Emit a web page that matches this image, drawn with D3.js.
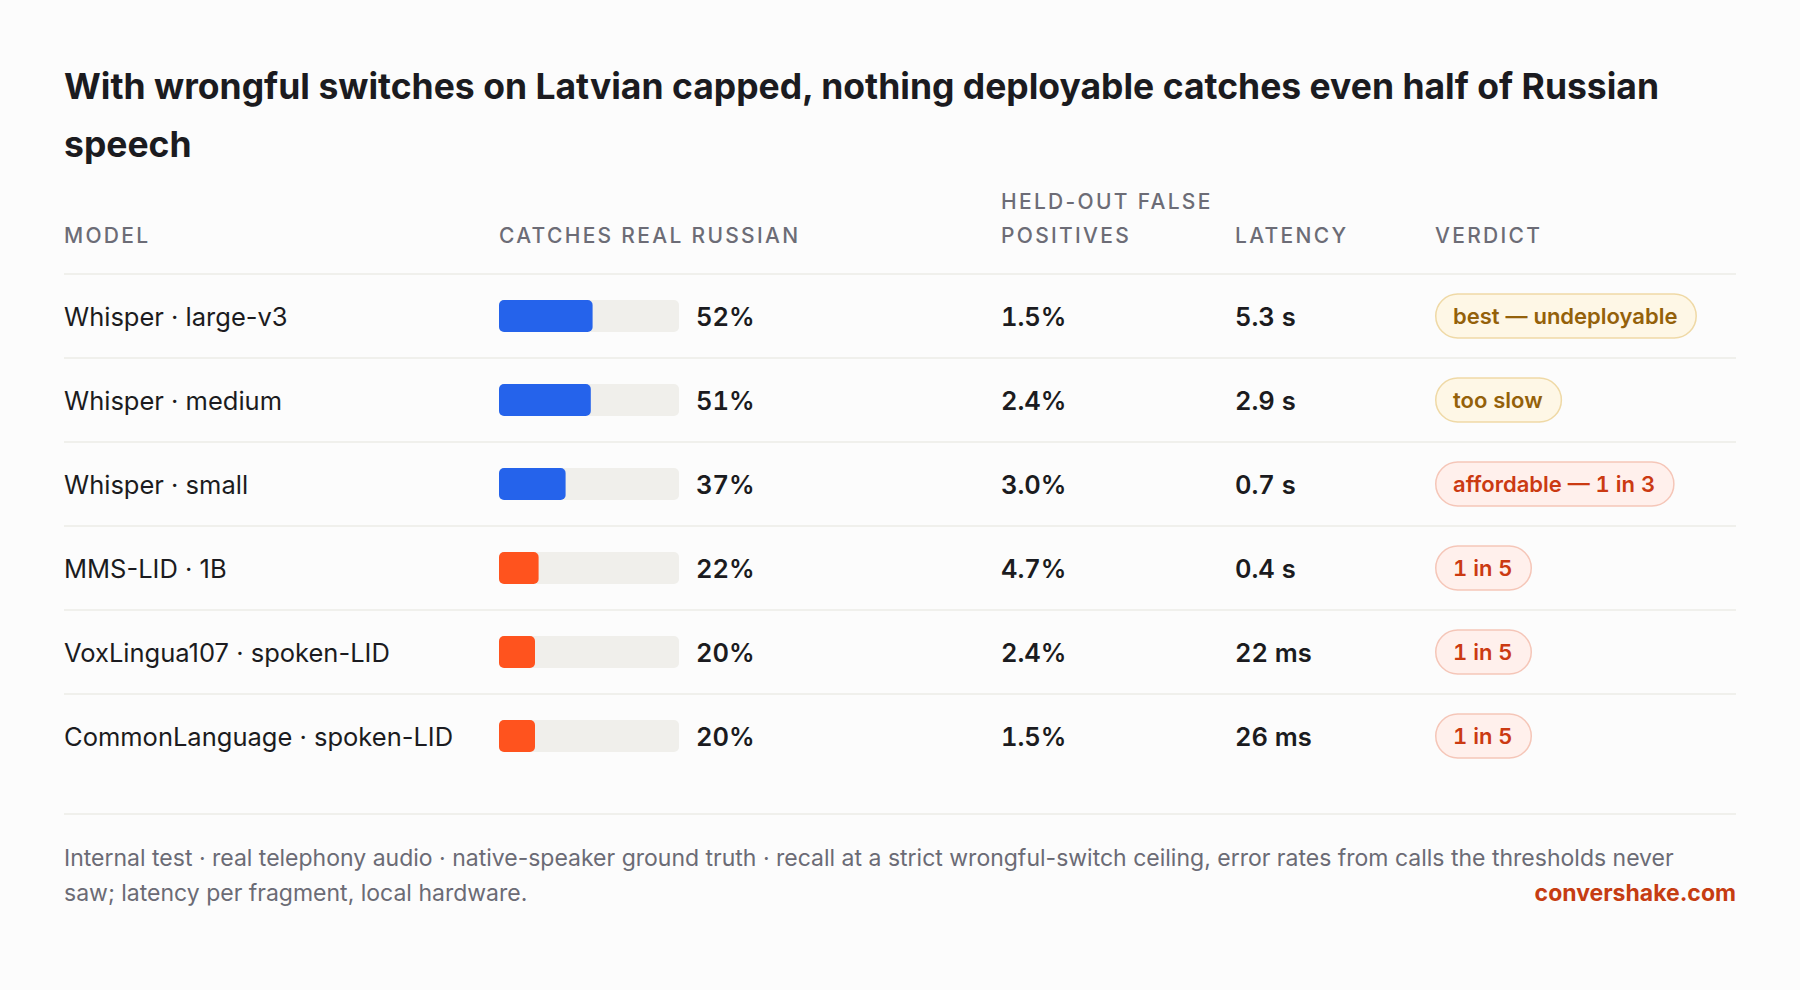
<!DOCTYPE html>
<html>
<head>
<meta charset="utf-8">
<script src="https://cdn.jsdelivr.net/npm/d3@7"></script>
<style>
  html, body { margin: 0; padding: 0; background: #fcfcfc; }
  svg { display: block; font-family: Inter, "Noto Sans", sans-serif; }
</style>
</head>
<body>
<svg id="chart" width="1800" height="990"></svg>
<script>
`use strict`;

const models = [`Whisper · large-v3`, `Whisper · medium`, `Whisper · small`, `MMS-LID · 1B`, `VoxLingua107 · spoken-LID`, `CommonLanguage · spoken-LID`];
const family = [`whisper`, `whisper`, `whisper`, `lid`, `lid`, `lid`];
const recall = [52, 51, 37, 22, 20, 20];
const falsePos = [1.5, 2.4, 3.0, 4.7, 2.4, 1.5];
const latency = [`5.3 s`, `2.9 s`, `0.7 s`, `0.4 s`, `22 ms`, `26 ms`];
const verdicts = [`best — undeployable`, `too slow`, `affordable — 1 in 3`, `1 in 5`, `1 in 5`, `1 in 5`];
const tone = [`warn`, `warn`, `bad`, `bad`, `bad`, `bad`];

const titleText = `With wrongful switches on Latvian capped, nothing deployable catches even half of Russian speech`;
const noteText = `Internal test · real telephony audio · native-speaker ground truth · recall at a strict wrongful-switch ceiling, error rates from calls the thresholds never saw; latency per fragment, local hardware.`;
const brand = `convershake.com`;

const W = 1800, left = 64, right = 1736;
const colX = {model: 64, bar: 499, fp: 1001, lat: 1235, verdict: 1435};

const barFill = {whisper: `#2563eb`, lid: `#ff531e`};
const pill = {
  warn: {fill: `#fef7e6`, stroke: `#efd9a6`, text: `#94610a`},
  bad: {fill: `#fff0ec`, stroke: `#f5c6b8`, text: `#cb3a12`}
};

const svg = d3.select(`#chart`);

svg.append(`rect`).attr(`width`, W).attr(`height`, 990).attr(`fill`, `#fcfcfc`);

// wrap helper: splits words into lines that fit maxW
let wrapLines = (sel, words, maxW) => {
  let lines = [], cur = ``;
  words.forEach(w => {
    let test = cur ? cur + ` ` + w : w;
    sel.text(test);
    if (sel.node().getComputedTextLength() > maxW && cur) {
      lines.push(cur);
      cur = w;
    } else cur = test;
  });
  lines.push(cur);
  sel.text(null);
  return lines;
};

// title
let title = svg.append(`text`)
  .attr(`x`, left)
  .attr(`y`, 99)
  .style(`font-size`, `35.5px`)
  .style(`font-weight`, `700`)
  .attr(`fill`, `#1b1b20`);

wrapLines(title, titleText.split(` `), right - left).forEach((l, i) => {
  title.append(`tspan`).attr(`x`, left).attr(`y`, 99 + i * 58).text(l);
});

// header
let head = svg.append(`g`)
  .style(`font-size`, `21px`)
  .style(`font-weight`, `500`)
  .style(`letter-spacing`, `2.3px`)
  .attr(`fill`, `#6c6c76`);

[[colX.model, [`MODEL`]], [colX.bar, [`CATCHES REAL RUSSIAN`]], [colX.fp, [`HELD-OUT FALSE`, `POSITIVES`]], [colX.lat, [`LATENCY`]], [colX.verdict, [`VERDICT`]]]
  .forEach(([x, lines]) => {
    lines.forEach((l, i) => {
      head.append(`text`)
        .attr(`x`, x)
        .attr(`y`, 243 - (lines.length - 1 - i) * 34.5)
        .text(l);
    });
  });

const top0 = 274, rowH = 84;

let y = d3.scaleBand()
  .domain(models)
  .range([top0, top0 + rowH * models.length]);

let x = d3.scaleLinear()
  .domain([0, 100])
  .range([0, 180]);

// rules
svg.append(`line`)
  .attr(`x1`, left).attr(`x2`, right)
  .attr(`y1`, top0).attr(`y2`, top0)
  .attr(`stroke`, `#edece7`).attr(`stroke-width`, 1.5);

svg.selectAll(`line.sep`).data(models.slice(1))
  .enter()
  .append(`line`)
  .attr(`class`, `sep`)
  .attr(`x1`, left).attr(`x2`, right)
  .attr(`y1`, d => y(d)).attr(`y2`, d => y(d))
  .attr(`stroke`, `#edece7`).attr(`stroke-width`, 1.5);

let rows = svg.selectAll(`g.row`).data(models)
  .enter()
  .append(`g`)
  .attr(`class`, `row`)
  .attr(`transform`, d => `translate(0,${y(d) + y.bandwidth() / 2})`);

rows.append(`text`)
  .attr(`x`, colX.model)
  .attr(`y`, 9.5)
  .style(`font-size`, `25.5px`)
  .attr(`fill`, `#1b1b20`)
  .text(d => d);

rows.append(`rect`)
  .attr(`x`, colX.bar + x(0))
  .attr(`y`, -16)
  .attr(`width`, x(100) - x(0))
  .attr(`height`, 32)
  .attr(`rx`, 5)
  .attr(`fill`, `#f0efeb`);

rows.append(`rect`)
  .attr(`x`, colX.bar + x(0))
  .attr(`y`, -16)
  .attr(`width`, (d, i) => x(recall[i]) - x(0))
  .attr(`height`, 32)
  .attr(`rx`, 5)
  .attr(`fill`, (d, i) => barFill[family[i]]);

let strong = sel => sel
  .style(`font-size`, `25.5px`)
  .style(`font-weight`, `600`)
  .style(`font-variant-numeric`, `tabular-nums`)
  .style(`font-feature-settings`, `"tnum" 1`)
  .attr(`fill`, `#1b1b20`);

rows.append(`text`)
  .attr(`x`, colX.bar + x(100) + 17)
  .attr(`y`, 9.5)
  .call(strong)
  .text((d, i) => recall[i] + `%`);

rows.append(`text`)
  .attr(`x`, colX.fp)
  .attr(`y`, 9.5)
  .call(strong)
  .text((d, i) => d3.format(`.1f`)(falsePos[i]) + `%`);

rows.append(`text`)
  .attr(`x`, colX.lat)
  .attr(`y`, 9.5)
  .call(strong)
  .text((d, i) => latency[i]);

// verdict pills
rows.each(function (d, i) {
  let g = d3.select(this);
  let c = pill[tone[i]];
  let bg = g.append(`rect`);
  let t = g.append(`text`)
    .attr(`x`, colX.verdict + 18)
    .attr(`y`, 8)
    .style(`font-size`, `22px`)
    .style(`font-weight`, `600`)
    .style(`font-feature-settings`, `"tnum" 1`)
    .attr(`fill`, c.text)
    .text(verdicts[i]);
  let tw = t.node().getComputedTextLength();
  bg.attr(`x`, colX.verdict + 0.75)
    .attr(`y`, -22)
    .attr(`width`, tw + 36)
    .attr(`height`, 44)
    .attr(`rx`, 22)
    .attr(`fill`, c.fill)
    .attr(`stroke`, c.stroke)
    .attr(`stroke-width`, 1.5);
});

// footer
svg.append(`line`)
  .attr(`x1`, left).attr(`x2`, right)
  .attr(`y1`, 814).attr(`y2`, 814)
  .attr(`stroke`, `#edece7`).attr(`stroke-width`, 1.5);

let note = svg.append(`text`)
  .attr(`x`, left)
  .style(`font-size`, `23px`)
  .attr(`fill`, `#6b6b75`);

wrapLines(note, noteText.split(` `), 1640).forEach((l, i) => {
  note.append(`tspan`).attr(`x`, left).attr(`y`, 866 + i * 35).text(l);
});

svg.append(`text`)
  .attr(`x`, right)
  .attr(`y`, 901)
  .attr(`text-anchor`, `end`)
  .style(`font-size`, `23px`)
  .style(`font-weight`, `700`)
  .attr(`fill`, `#c63d12`)
  .text(brand);
</script>
</body>
</html>
